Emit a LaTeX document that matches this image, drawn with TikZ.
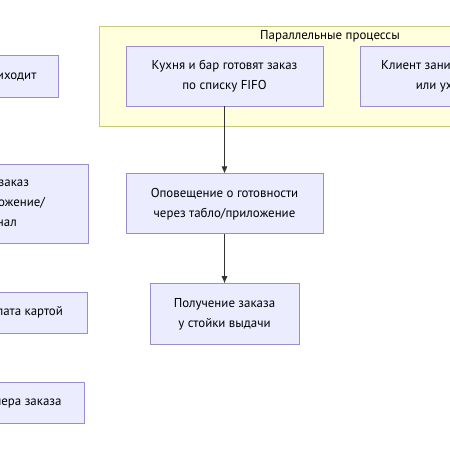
\documentclass[tikz,border=0pt]{standalone}
\usepackage{fontspec}
\setmainfont{PT Sans}
\usepackage{tikz}
\usetikzlibrary{arrows.meta,positioning}
\definecolor{boxline}{HTML}{9A8FCC}
\definecolor{boxfill}{HTML}{ECECFF}
\definecolor{grpline}{HTML}{C8C87A}
\definecolor{grpfill}{HTML}{FFFFDE}
\definecolor{wire}{HTML}{333333}
\tikzset{proc/.style={draw=boxline,fill=boxfill,line width=0.8pt,align=center,inner sep=0pt,
           minimum height=60pt,font=\fontsize{12.9}{20}\selectfont},
         group/.style={draw=grpline,fill=grpfill,line width=0.8pt,inner sep=0pt},
         flow/.style={-{Latex[length=7pt,width=6pt]},line width=0.7pt,draw=wire}}

\begin{document}
\begin{tikzpicture}[x=1pt,y=-1pt]
\useasboundingbox (0,0) rectangle (450,450);
\clip (0,0) rectangle (450,450);
% parallel group
\node[group, minimum width=462pt, minimum height=100pt] (par) at (330,76) {};
\node[font=\fontsize{12.9}{15}\selectfont] (parlbl) at (330,36) {Параллельные процессы};
\node[proc, minimum width=197pt] (kit) at (224.5,76) {Кухня и бар готовят заказ\\по списку FIFO};
\node[proc, minimum width=174pt] (cli) at (447,76) {Клиент занимает место\\или уходит};
% left column
\node[proc, minimum width=140pt, minimum height=42pt] (come) at (-12,76) {Клиент приходит};
\node[proc, minimum width=196pt, minimum height=79pt] (ord) at (-10,203.5) {Сделать заказ\\через приложение/\\терминал};
\node[proc, minimum width=130pt, minimum height=41pt] (pay) at (22,312.5) {Оплата картой};
\node[proc, minimum width=192pt, minimum height=41pt] (num) at (-12,402.5) {Получение номера заказа};
% main line
\node[proc, minimum width=197pt, below=67pt of kit] (note) {Оповещение о готовности\\через табло/приложение};
\node[proc, minimum width=149pt, minimum height=61pt, below=49pt of note] (pick) {Получение заказа\\у стойки выдачи};
\draw[flow] (kit) -- (note);
\draw[flow] (note) -- (pick);
\end{tikzpicture}
\end{document}
